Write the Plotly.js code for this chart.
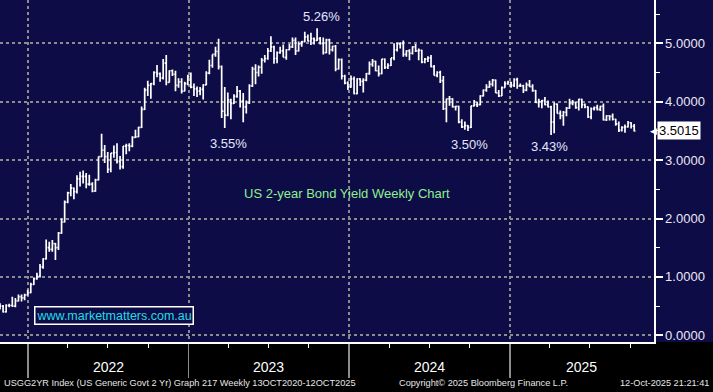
<!DOCTYPE html>
<html>
<head>
<meta charset="utf-8">
<script src="https://cdn.plot.ly/plotly-3.0.1.min.js"></script>
<style>
html,body{margin:0;padding:0;background:#000;}
#chart{width:713px;height:392px;}
</style>
</head>
<body>
<div id="chart"></div>
<script>
// Weekly bars (week ending Friday)
const weeks = [
 "2021-10-29","2021-11-05","2021-11-12","2021-11-19","2021-11-26","2021-12-03","2021-12-10","2021-12-17","2021-12-24","2021-12-31",
 "2022-01-07","2022-01-14","2022-01-21","2022-01-28","2022-02-04","2022-02-11","2022-02-18","2022-02-25","2022-03-04","2022-03-11",
 "2022-03-18","2022-03-25","2022-04-01","2022-04-08","2022-04-15","2022-04-22","2022-04-29","2022-05-06","2022-05-13","2022-05-20",
 "2022-05-27","2022-06-03","2022-06-10","2022-06-17","2022-06-24","2022-07-01","2022-07-08","2022-07-15","2022-07-22","2022-07-29",
 "2022-08-05","2022-08-12","2022-08-19","2022-08-26","2022-09-02","2022-09-09","2022-09-16","2022-09-23","2022-09-30","2022-10-07",
 "2022-10-14","2022-10-21","2022-10-28","2022-11-04","2022-11-11","2022-11-18","2022-11-25","2022-12-02","2022-12-09","2022-12-16",
 "2022-12-23","2022-12-30",
 "2023-01-06","2023-01-13","2023-01-20","2023-01-27","2023-02-03","2023-02-10","2023-02-17","2023-02-24","2023-03-03","2023-03-10",
 "2023-03-17","2023-03-24","2023-03-31","2023-04-07","2023-04-14","2023-04-21","2023-04-28","2023-05-05","2023-05-12","2023-05-19",
 "2023-05-26","2023-06-02","2023-06-09","2023-06-16","2023-06-23","2023-06-30","2023-07-07","2023-07-14","2023-07-21","2023-07-28",
 "2023-08-04","2023-08-11","2023-08-18","2023-08-25","2023-09-01","2023-09-08","2023-09-15","2023-09-22","2023-09-29","2023-10-06",
 "2023-10-13","2023-10-20","2023-10-27","2023-11-03","2023-11-10","2023-11-17","2023-11-24","2023-12-01","2023-12-08","2023-12-15",
 "2023-12-22","2023-12-29",
 "2024-01-05","2024-01-12","2024-01-19","2024-01-26","2024-02-02","2024-02-09","2024-02-16","2024-02-23","2024-03-01","2024-03-08",
 "2024-03-15","2024-03-22","2024-03-29","2024-04-05","2024-04-12","2024-04-19","2024-04-26","2024-05-03","2024-05-10","2024-05-17",
 "2024-05-24","2024-05-31","2024-06-07","2024-06-14","2024-06-21","2024-06-28","2024-07-05","2024-07-12","2024-07-19","2024-07-26",
 "2024-08-02","2024-08-09","2024-08-16","2024-08-23","2024-08-30","2024-09-06","2024-09-13","2024-09-20","2024-09-27","2024-10-04",
 "2024-10-11","2024-10-18","2024-10-25","2024-11-01","2024-11-08","2024-11-15","2024-11-22","2024-11-29","2024-12-06","2024-12-13",
 "2024-12-20","2024-12-27",
 "2025-01-03","2025-01-10","2025-01-17","2025-01-24","2025-01-31","2025-02-07","2025-02-14","2025-02-21","2025-02-28","2025-03-07",
 "2025-03-14","2025-03-21","2025-03-28","2025-04-04","2025-04-11","2025-04-18","2025-04-25","2025-05-02","2025-05-09","2025-05-16",
 "2025-05-23","2025-05-30","2025-06-06","2025-06-13","2025-06-20","2025-06-27","2025-07-04","2025-07-11","2025-07-18","2025-07-25",
 "2025-08-01","2025-08-08","2025-08-15","2025-08-22","2025-08-29","2025-09-05","2025-09-12","2025-09-19","2025-09-26","2025-10-03",
 "2025-10-10"
];
const open = [
 0.45,0.50,0.40,0.51,0.51,0.50,0.59,0.66,0.64,0.69,
 0.73,0.87,0.97,1.01,1.17,1.31,1.50,1.47,1.57,1.50, 1.75,1.94,2.28,2.44,2.52,2.46,2.68,2.72,2.72,2.59,
 2.59,2.47,2.66,3.06,3.17,3.06,2.84,3.12,3.13,2.98, 2.89,3.24,3.25,3.24,3.39,3.40,3.56,3.87,4.20,4.28,
 4.31,4.50,4.48,4.41,4.66,4.33,4.53,4.47,4.28,4.34, 4.18,4.31,
 4.43,4.25,4.22,4.18,4.21,4.29,4.49,4.62,4.81,4.86, 4.60,3.84,3.77,4.03,3.97,4.09,4.18,4.01,3.91,3.98,
 4.27,4.56,4.50,4.59,4.71,4.74,4.87,4.94,4.74,4.84, 4.87,4.76,4.89,4.94,5.05,4.87,4.99,5.03,5.11,5.04,
 5.08,5.05,5.08,5.00,4.84,5.06,4.89,4.95,4.56,4.72, 4.44,4.32,
 4.25,4.39,4.14,4.39,4.35,4.37,4.48,4.64,4.69,4.53, 4.48,4.73,4.59,4.62,4.75,4.89,4.99,5.00,4.81,4.87,
 4.83,4.94,4.87,4.88,4.68,4.73,4.75,4.60,4.45,4.50, 4.36,3.88,4.05,4.05,3.91,3.92,3.65,3.57,3.59,3.56,
 3.93,3.95,3.95,4.10,4.20,4.25,4.30,4.37,4.15,4.10, 4.24,4.31,
 4.33,4.28,4.38,4.27,4.27,4.20,4.29,4.26,4.19,3.99, 4.00,4.02,3.95,3.91,3.65,3.96,3.80,3.76,3.82,3.89,
 3.97,3.99,3.90,4.04,3.95,3.91,3.74,3.88,3.90,3.87, 3.92,3.69,3.76,3.75,3.70,3.62,3.51,3.56,3.57,3.64,
 3.58
];
const high = [
 0.55,0.52,0.53,0.54,0.66,0.64,0.70,0.70,0.71,0.78,
 0.90,0.99,1.07,1.22,1.32,1.64,1.60,1.63,1.58,1.77, 2.00,2.31,2.46,2.59,2.53,2.74,2.80,2.82,2.78,2.75,
 2.62,2.68,3.06,3.45,3.26,3.14,3.12,3.25,3.29,3.07, 3.24,3.28,3.29,3.41,3.52,3.57,3.92,4.24,4.36,4.32,
 4.52,4.63,4.50,4.73,4.80,4.54,4.55,4.53,4.40,4.40, 4.34,4.46,
 4.50,4.31,4.26,4.25,4.30,4.52,4.72,4.81,4.94,5.08, 4.62,4.25,4.16,4.05,4.13,4.27,4.20,4.15,4.02,4.30,
 4.60,4.64,4.62,4.75,4.80,4.92,5.12,4.96,4.86,4.94, 4.98,4.90,4.99,5.10,5.10,5.03,5.04,5.20,5.15,5.18,
 5.10,5.26,5.11,5.10,5.08,5.08,4.96,4.97,4.74,4.74, 4.46,4.35,
 4.45,4.43,4.40,4.40,4.40,4.49,4.69,4.73,4.70,4.62, 4.73,4.74,4.66,4.75,5.00,5.01,5.02,5.05,4.88,4.90,
 4.95,4.99,4.91,4.89,4.75,4.78,4.80,4.63,4.52,4.53, 4.44,4.05,4.10,4.06,3.93,3.93,3.70,3.66,3.60,3.93,
 4.03,4.00,4.11,4.21,4.30,4.36,4.39,4.38,4.20,4.26, 4.35,4.36,
 4.34,4.40,4.41,4.31,4.29,4.33,4.37,4.30,4.20,4.05, 4.03,4.08,4.02,3.93,3.99,3.97,3.85,3.84,3.91,4.05,
 4.03,4.00,4.05,4.05,3.97,3.92,3.90,3.92,3.95,3.93, 3.97,3.77,3.77,3.80,3.71,3.66,3.58,3.61,3.67,3.65,
 3.62
];
const low = [
 0.44,0.39,0.39,0.48,0.49,0.48,0.58,0.58,0.60,0.68,
 0.72,0.86,0.95,0.99,1.14,1.30,1.43,1.43,1.29,1.46, 1.74,1.93,2.26,2.38,2.33,2.43,2.55,2.60,2.52,2.56,
 2.45,2.46,2.65,3.05,2.95,2.78,2.79,3.04,2.94,2.84, 2.85,3.10,3.15,3.22,3.38,3.39,3.55,3.86,4.10,4.05,
 4.28,4.42,4.34,4.38,4.28,4.33,4.44,4.18,4.24,4.14, 4.18,4.28,
 4.23,4.10,4.08,4.11,4.04,4.28,4.47,4.58,4.77,4.55, 3.72,3.55,3.75,3.70,3.96,4.07,3.90,3.65,3.80,3.96,
 4.25,4.30,4.43,4.48,4.67,4.72,4.85,4.65,4.66,4.82, 4.76,4.72,4.88,4.92,4.80,4.86,4.94,5.02,5.03,4.97,
 4.98,5.04,4.98,4.81,4.83,4.81,4.86,4.52,4.55,4.38, 4.30,4.20,
 4.24,4.13,4.13,4.27,4.16,4.35,4.46,4.60,4.52,4.43, 4.47,4.56,4.56,4.61,4.71,4.86,4.91,4.77,4.77,4.71,
 4.81,4.85,4.71,4.66,4.66,4.68,4.59,4.45,4.42,4.32, 3.86,3.65,3.93,3.90,3.85,3.63,3.55,3.52,3.50,3.55,
 3.92,3.91,3.94,4.09,4.17,4.24,4.26,4.15,4.08,4.10, 4.24,4.29,
 4.24,4.25,4.22,4.25,4.15,4.18,4.25,4.17,3.98,3.90, 3.89,3.94,3.90,3.43,3.46,3.80,3.70,3.59,3.75,3.88,
 3.94,3.88,3.85,3.89,3.89,3.72,3.70,3.85,3.85,3.84, 3.68,3.67,3.68,3.68,3.59,3.48,3.49,3.47,3.56,3.54,
 3.49
];
const close = [
 0.50,0.40,0.51,0.51,0.50,0.59,0.66,0.64,0.69,0.73,
 0.87,0.97,1.01,1.17,1.31,1.50,1.47,1.57,1.50,1.75, 1.94,2.28,2.44,2.52,2.46,2.68,2.72,2.72,2.59,2.59,
 2.47,2.66,3.06,3.17,3.06,2.84,3.12,3.13,2.98,2.89, 3.24,3.25,3.24,3.39,3.40,3.56,3.87,4.20,4.28,4.31,
 4.50,4.48,4.41,4.66,4.33,4.53,4.47,4.28,4.34,4.18, 4.31,4.43,
 4.25,4.22,4.18,4.21,4.29,4.49,4.62,4.81,4.86,4.60, 3.84,3.77,4.03,3.97,4.09,4.18,4.01,3.91,3.98,4.27,
 4.56,4.50,4.59,4.71,4.74,4.87,4.94,4.74,4.84,4.87, 4.76,4.89,4.94,5.05,4.87,4.99,5.03,5.11,5.04,5.08,
 5.05,5.08,5.00,4.84,5.06,4.89,4.95,4.56,4.72,4.44, 4.32,4.25,
 4.39,4.14,4.39,4.35,4.37,4.48,4.64,4.69,4.53,4.48, 4.73,4.59,4.62,4.75,4.89,4.99,5.00,4.81,4.87,4.83,
 4.94,4.87,4.88,4.68,4.73,4.75,4.60,4.45,4.50,4.36, 3.88,4.05,4.05,3.91,3.92,3.65,3.57,3.59,3.56,3.93,
 3.95,3.95,4.10,4.20,4.25,4.30,4.37,4.15,4.10,4.24, 4.31,4.33,
 4.28,4.38,4.27,4.27,4.20,4.29,4.26,4.19,3.99,4.00, 4.02,3.95,3.91,3.65,3.96,3.80,3.76,3.82,3.89,3.97,
 3.99,3.90,4.04,3.95,3.91,3.74,3.88,3.90,3.87,3.92, 3.69,3.76,3.75,3.70,3.62,3.51,3.56,3.57,3.64,3.58,
 3.50
];
const lastPrice = 3.5015;
const yearStarts = ["2022-01-01","2023-01-01","2024-01-01","2025-01-01"];
const yearLabels = ["2022","2023","2024","2025"];
const xRange = ["2021-10-29","2025-11-24"];
const yRange = [-0.115, 5.742];
const yTicks = [0,1,2,3,4,5];
const callouts = [
  {text:"5.26%", px:321, py:17},
  {text:"3.55%", px:228, py:143},
  {text:"3.50%", px:469, py:144},
  {text:"3.43%", px:549, py:146}
];
const chartTitle = "US 2-year Bond Yield Weekly Chart";
const website = "www.marketmatters.com.au";
const footerLeft = "USGG2YR Index (US Generic Govt 2 Yr) Graph 217 Weekly 13OCT2020-12OCT2025";
const footerMid = "Copyright\u00a9 2025 Bloomberg Finance L.P.";
const footerRight = "12-Oct-2025 21:21:41";

const NAVY = "#0e0c46";
const PW = 654, PH = 342;
const FONT = "Liberation Sans, Arial, sans-serif";

const trace = {
  type: "ohlc", x: weeks, open: open, high: high, low: low, close: close,
  increasing: {line: {color: "#ffffff", width: 1.7}},
  decreasing: {line: {color: "#ffffff", width: 1.7}},
  tickwidth: 0.4, hoverinfo: "skip", showlegend: false
};

// year label positions: centre of visible part of each year
const t0 = Date.parse(xRange[0]), t1 = Date.parse(xRange[1]);
const yearMid = yearStarts.map((s, i) => {
  const a = Math.max(Date.parse(s), t0);
  const e = Date.parse((parseInt(yearLabels[i]) + 1) + "-01-01");
  const b = Math.min(e, t1);
  return new Date((a + b) / 2).toISOString().slice(0, 10);
});

const ann = [];
function txt(o) { return Object.assign({showarrow: false, xanchor: "center", yanchor: "middle"}, o); }
callouts.forEach(c => ann.push(txt({
  xref: "paper", yref: "paper", x: c.px / PW, y: (PH - c.py) / PH, text: c.text,
  font: {family: FONT, size: 13, color: "#e2e8ff"}
})));
ann.push(txt({xref: "paper", yref: "paper", x: 347 / PW, y: (PH - 193) / PH, text: chartTitle,
  font: {family: FONT, size: 13, color: "#8fef8f"}}));
ann.push(txt({xref: "paper", yref: "paper", x: 114 / PW, y: (PH - 315) / PH, text: website,
  font: {family: FONT, size: 12.5, color: "#22dce8"},
  bordercolor: "#ffffff", borderwidth: 1.5, borderpad: 1, bgcolor: NAVY}));
yearLabels.forEach((t, i) => ann.push(txt({
  xref: "x", yref: "paper", x: yearMid[i], y: (PH - 367) / PH, text: t,
  font: {family: FONT, size: 14, color: "#ffffff"}
})));
ann.push(txt({xref: "paper", yref: "y", x: 1, xshift: 3, y: lastPrice, text: lastPrice.toFixed(4),
  xanchor: "left", bgcolor: "#ffffff", borderpad: 1,
  font: {family: FONT, size: 13, color: "#000000"}}));
ann.push(txt({xref: "paper", yref: "y", x: 1, xshift: 5, y: lastPrice, text: "\u25C0",
  xanchor: "right", font: {family: "DejaVu Sans", size: 9, color: "#ffffff"}}));
ann.push(txt({xref: "paper", yref: "paper", x: 2 / PW, y: (PH - 383) / PH, text: footerLeft,
  xanchor: "left", font: {family: FONT, size: 9.2, color: "#e6e6e6"}}));
ann.push(txt({xref: "paper", yref: "paper", x: 397 / PW, y: (PH - 383) / PH, text: footerMid,
  xanchor: "left", font: {family: FONT, size: 9.2, color: "#e6e6e6"}}));
ann.push(txt({xref: "paper", yref: "paper", x: 711 / PW, y: (PH - 383) / PH, text: footerRight,
  xanchor: "right", font: {family: FONT, size: 9.2, color: "#e6e6e6"}}));

const layout = {
  width: 713, height: 392,
  margin: {l: 0, r: 59, t: 0, b: 50, pad: 0},
  paper_bgcolor: "#000000", plot_bgcolor: NAVY,
  showlegend: false,
  xaxis: {
    type: "date", range: xRange, rangeslider: {visible: false},
    tickvals: yearStarts, showticklabels: false,
    ticks: "outside", ticklen: 34, tickwidth: 1.5, tickcolor: "#8c8c8c",
    showgrid: true, gridcolor: "#8c8c8c", griddash: "dot", gridwidth: 2,
    showline: true, linecolor: "#ffffff", linewidth: 1.5,
    minor: {dtick: "M3", tick0: "2022-01-01", ticks: "outside", ticklen: 4, tickcolor: "#ffffff", tickwidth: 1, showgrid: false},
    zeroline: false, fixedrange: true
  },
  yaxis: {
    side: "right", range: yRange, tickvals: yTicks, tickformat: ".4f",
    ticks: "outside", ticklen: 7, tickwidth: 2, tickcolor: "#ffffff",
    tickfont: {family: FONT, size: 13, color: "#ece8f4"},
    showgrid: true, gridcolor: "#8c8c8c", griddash: "dot", gridwidth: 2,
    showline: true, linecolor: "#ffffff", linewidth: 1.5,
    minor: {dtick: 0.5, tick0: 0, ticks: "outside", ticklen: 4, tickcolor: "#ffffff", tickwidth: 1, showgrid: false},
    zeroline: false, fixedrange: true
  },
  shapes: [{type: "rect", xref: "paper", yref: "paper", x0: 1, x1: 1.2, y0: 0, y1: 1,
    fillcolor: NAVY, line: {width: 0}, layer: "below"}],
  annotations: ann
};

Plotly.newPlot("chart", [trace], layout, {staticPlot: true, displayModeBar: false});
</script>
</body>
</html>
